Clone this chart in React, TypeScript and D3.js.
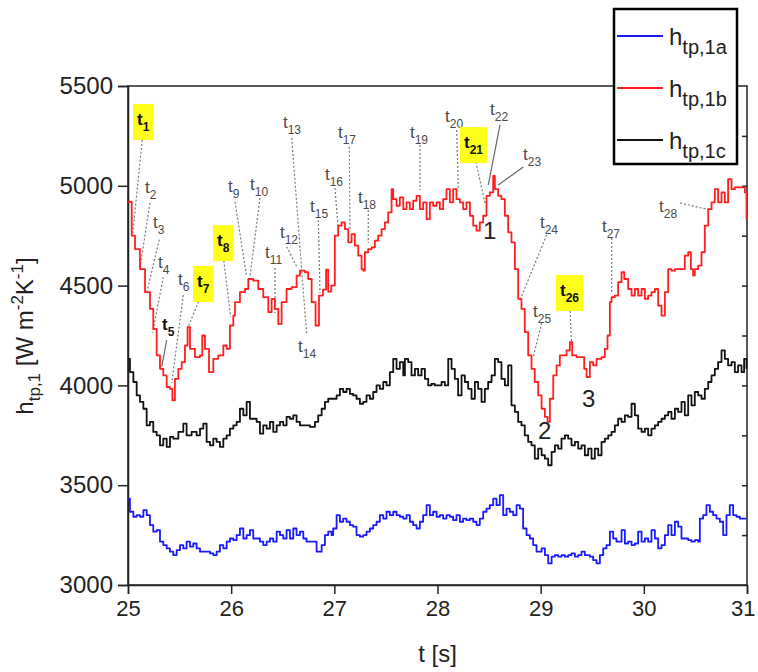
import { useEffect, useRef } from "react";
import * as d3 from "d3";

const xTicks = [25, 26, 27, 28, 29, 30, 31];
const yTicks = [3000, 3500, 4000, 4500, 5000, 5500];

// h_tp,1b (red)
const red1b: [number, number][] = [
  [25.0, 4920], [25.036, 4750], [25.068, 4683], [25.116, 4583], [25.165, 4467], [25.213, 4383],
  [25.245, 4283], [25.278, 4150], [25.31, 4083], [25.342, 4050], [25.375, 3992], [25.407, 3983],
  [25.43, 3925], [25.455, 4033], [25.488, 4083], [25.52, 4117], [25.552, 4200], [25.578, 4292],
  [25.601, 4183], [25.649, 4142], [25.698, 4150], [25.72, 4250], [25.746, 4183], [25.785, 4067],
  [25.827, 4133], [25.875, 4150], [25.924, 4200], [25.956, 4183], [25.988, 4300], [26.021, 4350],
  [26.037, 4417], [26.085, 4467], [26.134, 4483], [26.166, 4533], [26.214, 4525], [26.263, 4483],
  [26.311, 4442], [26.36, 4367], [26.392, 4433], [26.424, 4383], [26.457, 4308], [26.489, 4417],
  [26.537, 4483], [26.586, 4492], [26.634, 4550], [26.667, 4575], [26.715, 4567], [26.747, 4533],
  [26.78, 4417], [26.818, 4300], [26.851, 4450], [26.89, 4480], [26.92, 4580], [26.94, 4470],
  [26.97, 4500], [27.005, 4750], [27.038, 4800], [27.07, 4817], [27.102, 4783], [27.135, 4717],
  [27.167, 4758], [27.199, 4700], [27.232, 4650], [27.264, 4583], [27.28, 4575], [27.296, 4667],
  [27.328, 4683], [27.361, 4692], [27.393, 4725], [27.425, 4750], [27.458, 4783], [27.49, 4817],
  [27.522, 4867], [27.555, 4983], [27.571, 4933], [27.603, 4900], [27.635, 4942], [27.668, 4883],
  [27.7, 4917], [27.732, 4883], [27.764, 4925], [27.797, 4950], [27.829, 4883], [27.861, 4917],
  [27.894, 4833], [27.926, 4917], [27.958, 4900], [27.991, 4917], [28.023, 4883], [28.055, 4933],
  [28.087, 4983], [28.12, 4917], [28.152, 4983], [28.184, 4933], [28.217, 4917], [28.249, 4883],
  [28.281, 4917], [28.314, 4850], [28.346, 4800], [28.378, 4775], [28.41, 4817], [28.443, 4850],
  [28.475, 4950], [28.507, 4967], [28.54, 5050], [28.556, 4983], [28.588, 4950], [28.62, 4933],
  [28.653, 4850], [28.685, 4767], [28.717, 4717], [28.75, 4583], [28.782, 4433], [28.814, 4383],
  [28.846, 4267], [28.879, 4150], [28.911, 4083], [28.943, 4017], [28.976, 3950], [29.009, 3883],
  [29.041, 3842], [29.067, 3817], [29.089, 3933], [29.122, 4050], [29.154, 4100], [29.186, 4150],
  [29.219, 4150], [29.251, 4175], [29.283, 4217], [29.306, 4150], [29.348, 4142], [29.396, 4142],
  [29.422, 4083], [29.445, 4042], [29.477, 4117], [29.509, 4100], [29.542, 4133], [29.59, 4142],
  [29.622, 4183], [29.648, 4250], [29.671, 4417], [29.687, 4442], [29.719, 4450], [29.751, 4517],
  [29.784, 4567], [29.81, 4533], [29.848, 4483], [29.881, 4450], [29.913, 4483], [29.945, 4450],
  [29.978, 4483], [30.01, 4433], [30.042, 4450], [30.074, 4467], [30.107, 4483], [30.139, 4400],
  [30.171, 4350], [30.204, 4467], [30.236, 4583], [30.268, 4575], [30.301, 4583], [30.365, 4583],
  [30.397, 4650], [30.43, 4667], [30.456, 4583], [30.478, 4550], [30.494, 4583], [30.527, 4600],
  [30.559, 4667], [30.591, 4800], [30.624, 4883], [30.656, 4917], [30.688, 4983], [30.72, 4917],
  [30.753, 4967], [30.785, 4917], [30.817, 5033], [30.85, 4983], [30.882, 4992], [30.947, 4992],
  [30.979, 4967], [30.995, 4833],
];

// h_tp,1c (black)
const black1c: [number, number][] = [
  [25.0, 4133], [25.019, 4067], [25.052, 4017], [25.084, 3950], [25.116, 3917], [25.149, 3883],
  [25.181, 3800], [25.213, 3817], [25.245, 3767], [25.278, 3750], [25.31, 3700], [25.342, 3733],
  [25.375, 3692], [25.407, 3742], [25.439, 3733], [25.488, 3767], [25.536, 3808], [25.568, 3750],
  [25.617, 3767], [25.665, 3750], [25.698, 3783], [25.73, 3808], [25.762, 3717], [25.795, 3700],
  [25.827, 3733], [25.859, 3717], [25.891, 3692], [25.924, 3733], [25.956, 3750], [25.988, 3783],
  [26.021, 3800], [26.053, 3817], [26.085, 3883], [26.118, 3850], [26.15, 3917], [26.182, 3833],
  [26.214, 3833], [26.247, 3817], [26.279, 3758], [26.311, 3800], [26.344, 3783], [26.376, 3817],
  [26.408, 3767], [26.441, 3800], [26.473, 3817], [26.505, 3800], [26.537, 3842], [26.57, 3833],
  [26.602, 3850], [26.634, 3817], [26.667, 3800], [26.715, 3800], [26.764, 3792], [26.812, 3817],
  [26.844, 3850], [26.877, 3883], [26.909, 3917], [26.941, 3933], [26.973, 3933], [26.989, 3933],
  [27.022, 3950], [27.054, 3983], [27.086, 3967], [27.118, 3983], [27.151, 3958], [27.183, 3950],
  [27.215, 3933], [27.248, 3908], [27.28, 3917], [27.312, 3950], [27.345, 3933], [27.377, 3967],
  [27.409, 4000], [27.441, 3983], [27.474, 4017], [27.506, 4000], [27.538, 4067], [27.571, 4133],
  [27.603, 4083], [27.635, 4117], [27.668, 4050], [27.684, 4133], [27.716, 4117], [27.748, 4050],
  [27.781, 4083], [27.813, 4050], [27.845, 4083], [27.878, 4033], [27.91, 4000], [27.942, 4008],
  [27.974, 4000], [28.007, 4000], [28.039, 4017], [28.071, 4000], [28.104, 4133], [28.136, 4083],
  [28.168, 4033], [28.2, 3950], [28.233, 4050], [28.265, 4017], [28.297, 3983], [28.33, 3933],
  [28.362, 4017], [28.394, 3983], [28.427, 3917], [28.459, 3983], [28.491, 4017], [28.524, 4050],
  [28.556, 4133], [28.588, 4117], [28.62, 4033], [28.653, 4000], [28.685, 4100], [28.717, 3900],
  [28.75, 3867], [28.782, 3817], [28.814, 3800], [28.846, 3750], [28.879, 3717], [28.911, 3700],
  [28.943, 3633], [28.976, 3683], [29.009, 3650], [29.041, 3633], [29.073, 3600], [29.106, 3667],
  [29.138, 3700], [29.17, 3683], [29.202, 3733], [29.235, 3750], [29.267, 3733], [29.299, 3700],
  [29.332, 3717], [29.364, 3683], [29.396, 3700], [29.428, 3650], [29.461, 3683], [29.493, 3633],
  [29.525, 3683], [29.558, 3650], [29.59, 3717], [29.622, 3733], [29.655, 3750], [29.687, 3767],
  [29.719, 3800], [29.751, 3833], [29.784, 3817], [29.816, 3850], [29.848, 3842], [29.881, 3908],
  [29.913, 3850], [29.945, 3783], [29.978, 3767], [30.01, 3783], [30.042, 3750], [30.074, 3783],
  [30.107, 3800], [30.139, 3817], [30.171, 3833], [30.204, 3850], [30.236, 3867], [30.268, 3833],
  [30.301, 3883], [30.333, 3867], [30.365, 3917], [30.397, 3850], [30.43, 3950], [30.462, 3900],
  [30.494, 3967], [30.527, 3950], [30.559, 3933], [30.591, 3983], [30.624, 4017], [30.656, 4050],
  [30.688, 4083], [30.72, 4117], [30.753, 4175], [30.785, 4133], [30.817, 4100], [30.85, 4117],
  [30.882, 4067], [30.914, 4100], [30.947, 4067], [30.972, 4133], [30.995, 4083],
];

// h_tp,1a (blue)
const blue1a: [number, number][] = [
  [25.0, 3433], [25.019, 3367], [25.052, 3342], [25.084, 3350], [25.116, 3342], [25.149, 3375],
  [25.181, 3350], [25.213, 3300], [25.245, 3267], [25.278, 3275], [25.31, 3217], [25.342, 3200],
  [25.375, 3183], [25.407, 3167], [25.439, 3150], [25.472, 3175], [25.504, 3200], [25.536, 3183],
  [25.568, 3217], [25.601, 3192], [25.633, 3208], [25.665, 3183], [25.698, 3167], [25.746, 3167],
  [25.795, 3158], [25.827, 3150], [25.859, 3167], [25.891, 3200], [25.924, 3183], [25.956, 3217],
  [25.988, 3233], [26.021, 3225], [26.053, 3250], [26.085, 3283], [26.118, 3233], [26.15, 3250],
  [26.182, 3275], [26.214, 3233], [26.247, 3233], [26.279, 3217], [26.311, 3200], [26.344, 3217],
  [26.376, 3233], [26.408, 3217], [26.441, 3267], [26.473, 3250], [26.505, 3233], [26.537, 3275],
  [26.57, 3233], [26.602, 3283], [26.634, 3250], [26.667, 3267], [26.699, 3233], [26.731, 3217],
  [26.78, 3217], [26.828, 3167], [26.877, 3200], [26.909, 3250], [26.941, 3267], [26.973, 3250],
  [26.989, 3283], [27.022, 3350], [27.054, 3317], [27.086, 3333], [27.118, 3317], [27.151, 3300],
  [27.183, 3292], [27.215, 3250], [27.248, 3242], [27.28, 3250], [27.312, 3267], [27.345, 3283],
  [27.377, 3300], [27.409, 3317], [27.441, 3350], [27.474, 3333], [27.506, 3367], [27.538, 3350],
  [27.571, 3367], [27.603, 3350], [27.635, 3342], [27.668, 3333], [27.7, 3350], [27.732, 3317],
  [27.764, 3300], [27.797, 3283], [27.829, 3317], [27.861, 3350], [27.894, 3400], [27.926, 3350],
  [27.958, 3367], [27.991, 3342], [28.023, 3350], [28.055, 3333], [28.087, 3350], [28.12, 3342],
  [28.152, 3325], [28.184, 3350], [28.217, 3317], [28.249, 3333], [28.281, 3325], [28.314, 3333],
  [28.346, 3317], [28.378, 3300], [28.41, 3333], [28.443, 3367], [28.475, 3383], [28.507, 3400],
  [28.54, 3433], [28.572, 3400], [28.604, 3450], [28.637, 3350], [28.669, 3383], [28.701, 3367],
  [28.734, 3350], [28.766, 3400], [28.798, 3383], [28.83, 3283], [28.863, 3250], [28.895, 3233],
  [28.927, 3200], [28.96, 3167], [28.976, 3167], [29.009, 3183], [29.041, 3150], [29.073, 3108],
  [29.106, 3142], [29.138, 3150], [29.17, 3142], [29.202, 3150], [29.235, 3142], [29.267, 3150],
  [29.299, 3158], [29.332, 3142], [29.364, 3150], [29.396, 3167], [29.428, 3150], [29.477, 3142],
  [29.509, 3125], [29.542, 3108], [29.574, 3150], [29.606, 3183], [29.638, 3200], [29.671, 3267],
  [29.703, 3233], [29.735, 3217], [29.784, 3275], [29.816, 3208], [29.848, 3217], [29.881, 3200],
  [29.913, 3208], [29.945, 3267], [29.978, 3217], [30.01, 3233], [30.042, 3217], [30.074, 3275],
  [30.107, 3233], [30.139, 3183], [30.171, 3200], [30.204, 3250], [30.236, 3300], [30.268, 3250],
  [30.301, 3317], [30.333, 3292], [30.365, 3233], [30.397, 3233], [30.43, 3225], [30.462, 3217],
  [30.494, 3225], [30.527, 3217], [30.543, 3333], [30.575, 3350], [30.607, 3400], [30.64, 3367],
  [30.672, 3350], [30.704, 3333], [30.737, 3317], [30.769, 3250], [30.801, 3350], [30.833, 3400],
  [30.866, 3350], [30.898, 3342], [30.93, 3333], [30.995, 3333],
];

const legendNames = ["tp,1a", "tp,1b", "tp,1c"];
const legendColors = ["#1a1aff", "#ff1f1f", "#111111"];

// time labels: sub, text t/v, leader from t/v, leader to t/v, highlighted, bold, solid leader
const timeMarks: [string, number, number, number, number, number, number, boolean, boolean, boolean][] = [
  ["1", 25.087, 5305, 25.142, 5250, 25.046, 4762, true, true, false],
  ["2", 25.165, 4964, 25.213, 4914, 25.113, 4578, false, false, false],
  ["3", 25.242, 4789, 25.303, 4730, 25.181, 4463, false, false, false],
  ["4", 25.291, 4588, 25.342, 4543, 25.239, 4262, false, false, false],
  ["5", 25.33, 4278, 25.375, 4227, 25.327, 4094, false, true, true],
  ["6", 25.485, 4503, 25.536, 4453, 25.424, 4012, false, false, false],
  ["7", 25.669, 4493, 25.698, 4438, 25.584, 4294, true, true, false],
  ["8", 25.863, 4698, 25.924, 4645, 25.995, 4344, true, true, false],
  ["9", 25.969, 4969, 26.037, 4920, 26.15, 4545, false, false, false],
  ["10", 26.183, 4979, 26.279, 4939, 26.183, 4545, false, false, false],
  ["11", 26.328, 4638, 26.425, 4588, 26.425, 4363, false, false, false],
  ["12", 26.473, 4739, 26.538, 4695, 26.635, 4595, false, false, false],
  ["13", 26.502, 5290, 26.587, 5240, 26.684, 4578, false, false, false],
  ["14", 26.648, 4167, 26.732, 4261, 26.684, 4570, false, false, false],
  ["15", 26.764, 4869, 26.845, 4829, 26.861, 4463, false, false, false],
  ["16", 26.909, 5029, 27.006, 4989, 27.038, 4779, false, false, false],
  ["17", 27.035, 5240, 27.145, 5196, 27.152, 4779, false, false, false],
  ["18", 27.229, 4914, 27.329, 4879, 27.329, 4713, false, false, false],
  ["19", 27.733, 5240, 27.83, 5204, 27.83, 4979, false, false, false],
  ["20", 28.073, 5320, 28.186, 5280, 28.202, 4979, false, false, false],
  ["21", 28.257, 5189, 28.363, 5139, 28.46, 4914, true, true, false],
  ["22", 28.509, 5355, 28.606, 5305, 28.492, 5004, false, false, true],
  ["23", 28.829, 5129, 28.832, 5094, 28.589, 5004, false, false, true],
  ["24", 28.993, 4789, 29.058, 4754, 28.8, 4428, false, false, false],
  ["25", 28.926, 4343, 29.01, 4313, 28.928, 4142, false, false, false],
  ["26", 29.187, 4448, 29.284, 4393, 29.3, 4192, true, true, false],
  ["27", 29.594, 4769, 29.688, 4739, 29.688, 4463, false, false, false],
  ["28", 30.147, 4869, 30.351, 4914, 30.641, 4879, false, false, false],
];

const stageLabels: [string, number, number][] = [
  ["1", 28.441, 4734],
  ["2", 28.974, 3731],
  ["3", 29.4, 3892],
];

const FONT = "'Liberation Sans', Arial, sans-serif";

export default function App() {
  const ref = useRef<SVGSVGElement>(null);

  useEffect(() => {
    const svg = d3.select(ref.current);
    svg.selectAll("*").remove();
    const left = 128, right = 747, top = 86, bottom = 585;

    const x = d3.scaleLinear().domain([25, 31]).range([left, right]);
    const y = d3.scaleLinear().domain([3000, 5500]).range([bottom, top]);

    svg.append("rect").attr("width", 758).attr("height", 672).attr("fill", "#fff");

    // frame
    svg
      .append("rect")
      .attr("x", left)
      .attr("y", top)
      .attr("width", right - left)
      .attr("height", bottom - top)
      .attr("fill", "none")
      .attr("stroke", "#222")
      .attr("stroke-width", 1.5);

    // right inner ticks
    svg
      .append("g")
      .attr("transform", `translate(${right},0)`)
      .call(d3.axisLeft(y).tickValues(d3.range(3250, 5500, 250)).tickSize(5).tickFormat(() => ""))
      .call((g) => g.select(".domain").remove())
      .call((g) => g.selectAll("line").attr("stroke", "#222").attr("stroke-width", 1.5));

    // y axis
    const gy = svg.append("g").attr("transform", `translate(${left},0)`);
    gy.call(d3.axisLeft(y).tickValues(d3.range(3250, 5500, 500)).tickSize(5).tickFormat(() => ""));
    gy.call(d3.axisLeft(y).tickValues(yTicks).tickSize(10).tickPadding(5).tickFormat(d3.format("d")));
    gy.selectAll(".domain").attr("stroke", "#222").attr("stroke-width", 1.5);
    gy.selectAll("line").attr("stroke", "#222").attr("stroke-width", 1.5);
    gy.selectAll("text").attr("font-size", 24).attr("font-family", FONT).attr("fill", "#222");

    // x axis
    const minorX = d3.range(0, 18).filter((i) => i % 3 !== 0).map((i) => 25 + i / 3);
    const gx = svg.append("g").attr("transform", `translate(0,${bottom})`);
    gx.call(d3.axisBottom(x).tickValues(minorX).tickSize(5).tickFormat(() => ""));
    gx.call(d3.axisBottom(x).tickValues(xTicks).tickSize(9).tickPadding(6).tickFormat(d3.format("d")));
    gx.selectAll(".domain").attr("stroke", "#222").attr("stroke-width", 1.5);
    gx.selectAll("line").attr("stroke", "#222").attr("stroke-width", 1.5);
    gx.selectAll("text").attr("font-size", 22).attr("font-family", FONT).attr("fill", "#222");
    // keep the last label inside the picture
    gx.selectAll<SVGTextElement, number>(".tick text")
      .filter((d) => d === 31)
      .attr("text-anchor", "end")
      .attr("dx", 8);

    // axis titles
    svg
      .append("text")
      .attr("x", (left + right) / 2)
      .attr("y", 662)
      .attr("text-anchor", "middle")
      .attr("font-family", FONT)
      .attr("font-size", 24)
      .attr("fill", "#222")
      .text("t [s]");

    const yt = svg
      .append("text")
      .attr("transform", "translate(33,336) rotate(-90)")
      .attr("text-anchor", "middle")
      .attr("font-family", FONT)
      .attr("font-size", 24)
      .attr("fill", "#222");
    yt.append("tspan").text("h");
    yt.append("tspan").attr("font-size", 17).attr("dy", 7).text("tp,1");
    yt.append("tspan").attr("dy", -7).text(" [W m");
    yt.append("tspan").attr("font-size", 17).attr("dy", -10).text("-2");
    yt.append("tspan").attr("dy", 10).text("K");
    yt.append("tspan").attr("font-size", 17).attr("dy", -10).text("-1");
    yt.append("tspan").attr("dy", 10).text("]");

    // leader lines
    svg
      .append("g")
      .selectAll("line")
      .data(timeMarks)
      .join("line")
      .attr("x1", (d) => x(d[3]))
      .attr("y1", (d) => y(d[4]))
      .attr("x2", (d) => x(d[5]))
      .attr("y2", (d) => y(d[6]))
      .attr("stroke", (d) => (d[9] ? "#666" : "#7a7a7a"))
      .attr("stroke-width", 1.2)
      .attr("stroke-dasharray", (d) => (d[9] ? null : "2,2"));

    // curves
    const line = d3
      .line<[number, number]>()
      .x((d) => x(d[0]))
      .y((d) => y(d[1]))
      .curve(d3.curveStepAfter);
    [blue1a, black1c, red1b].forEach((s, i) => {
      const col = [legendColors[0], legendColors[2], legendColors[1]][i];
      svg
        .append("path")
        .datum(s)
        .attr("fill", "none")
        .attr("stroke", col)
        .attr("stroke-width", 1.8)
        .attr("stroke-linejoin", "round")
        .attr("d", line);
    });

    // time labels
    const lg = svg.append("g");
    timeMarks.forEach((d) => {
      const g = lg.append("g");
      const t = g
        .append("text")
        .attr("x", x(d[1]))
        .attr("y", y(d[2]))
        .attr("font-family", FONT)
        .attr("font-size", 17)
        .attr("font-weight", d[8] ? "bold" : "normal")
        .attr("fill", d[8] ? "#111" : "#4a4a4a");
      t.append("tspan").text("t");
      t.append("tspan").attr("font-size", 12).attr("dy", 6).text(d[0]);
      if (d[7]) {
        const b = (t.node() as SVGTextElement).getBBox();
        g.insert("rect", "text")
          .attr("x", b.x - 4)
          .attr("y", b.y - 6)
          .attr("width", b.width + 8)
          .attr("height", b.height + 12)
          .attr("fill", "#ffff1a");
      }
    });

    svg
      .append("g")
      .selectAll("text")
      .data(stageLabels)
      .join("text")
      .attr("x", (d) => x(d[1]))
      .attr("y", (d) => y(d[2]))
      .attr("font-family", FONT)
      .attr("font-size", 24)
      .attr("fill", "#222")
      .text((d) => d[0]);

    // legend
    const leg = svg.append("g");
    leg
      .append("rect")
      .attr("x", 614)
      .attr("y", 9)
      .attr("width", 123)
      .attr("height", 155)
      .attr("fill", "#fff")
      .attr("stroke", "#000")
      .attr("stroke-width", 2.5);
    legendNames.forEach((n, i) => {
      const cy = 36 + i * 52;
      leg
        .append("line")
        .attr("x1", 617)
        .attr("x2", 663)
        .attr("y1", cy)
        .attr("y2", cy)
        .attr("stroke", legendColors[i])
        .attr("stroke-width", 1.8);
      const t = leg
        .append("text")
        .attr("x", 669)
        .attr("y", cy + 9)
        .attr("font-family", FONT)
        .attr("font-size", 24)
        .attr("fill", "#222");
      t.append("tspan").text("h");
      t.append("tspan").attr("font-size", 20).attr("dy", 9).text(n);
    });
  }, []);

  return (
    <svg
      ref={ref}
      width={758}
      height={672}
      style={{ position: "absolute", left: 0, top: 0 }}
    />
  );
}
